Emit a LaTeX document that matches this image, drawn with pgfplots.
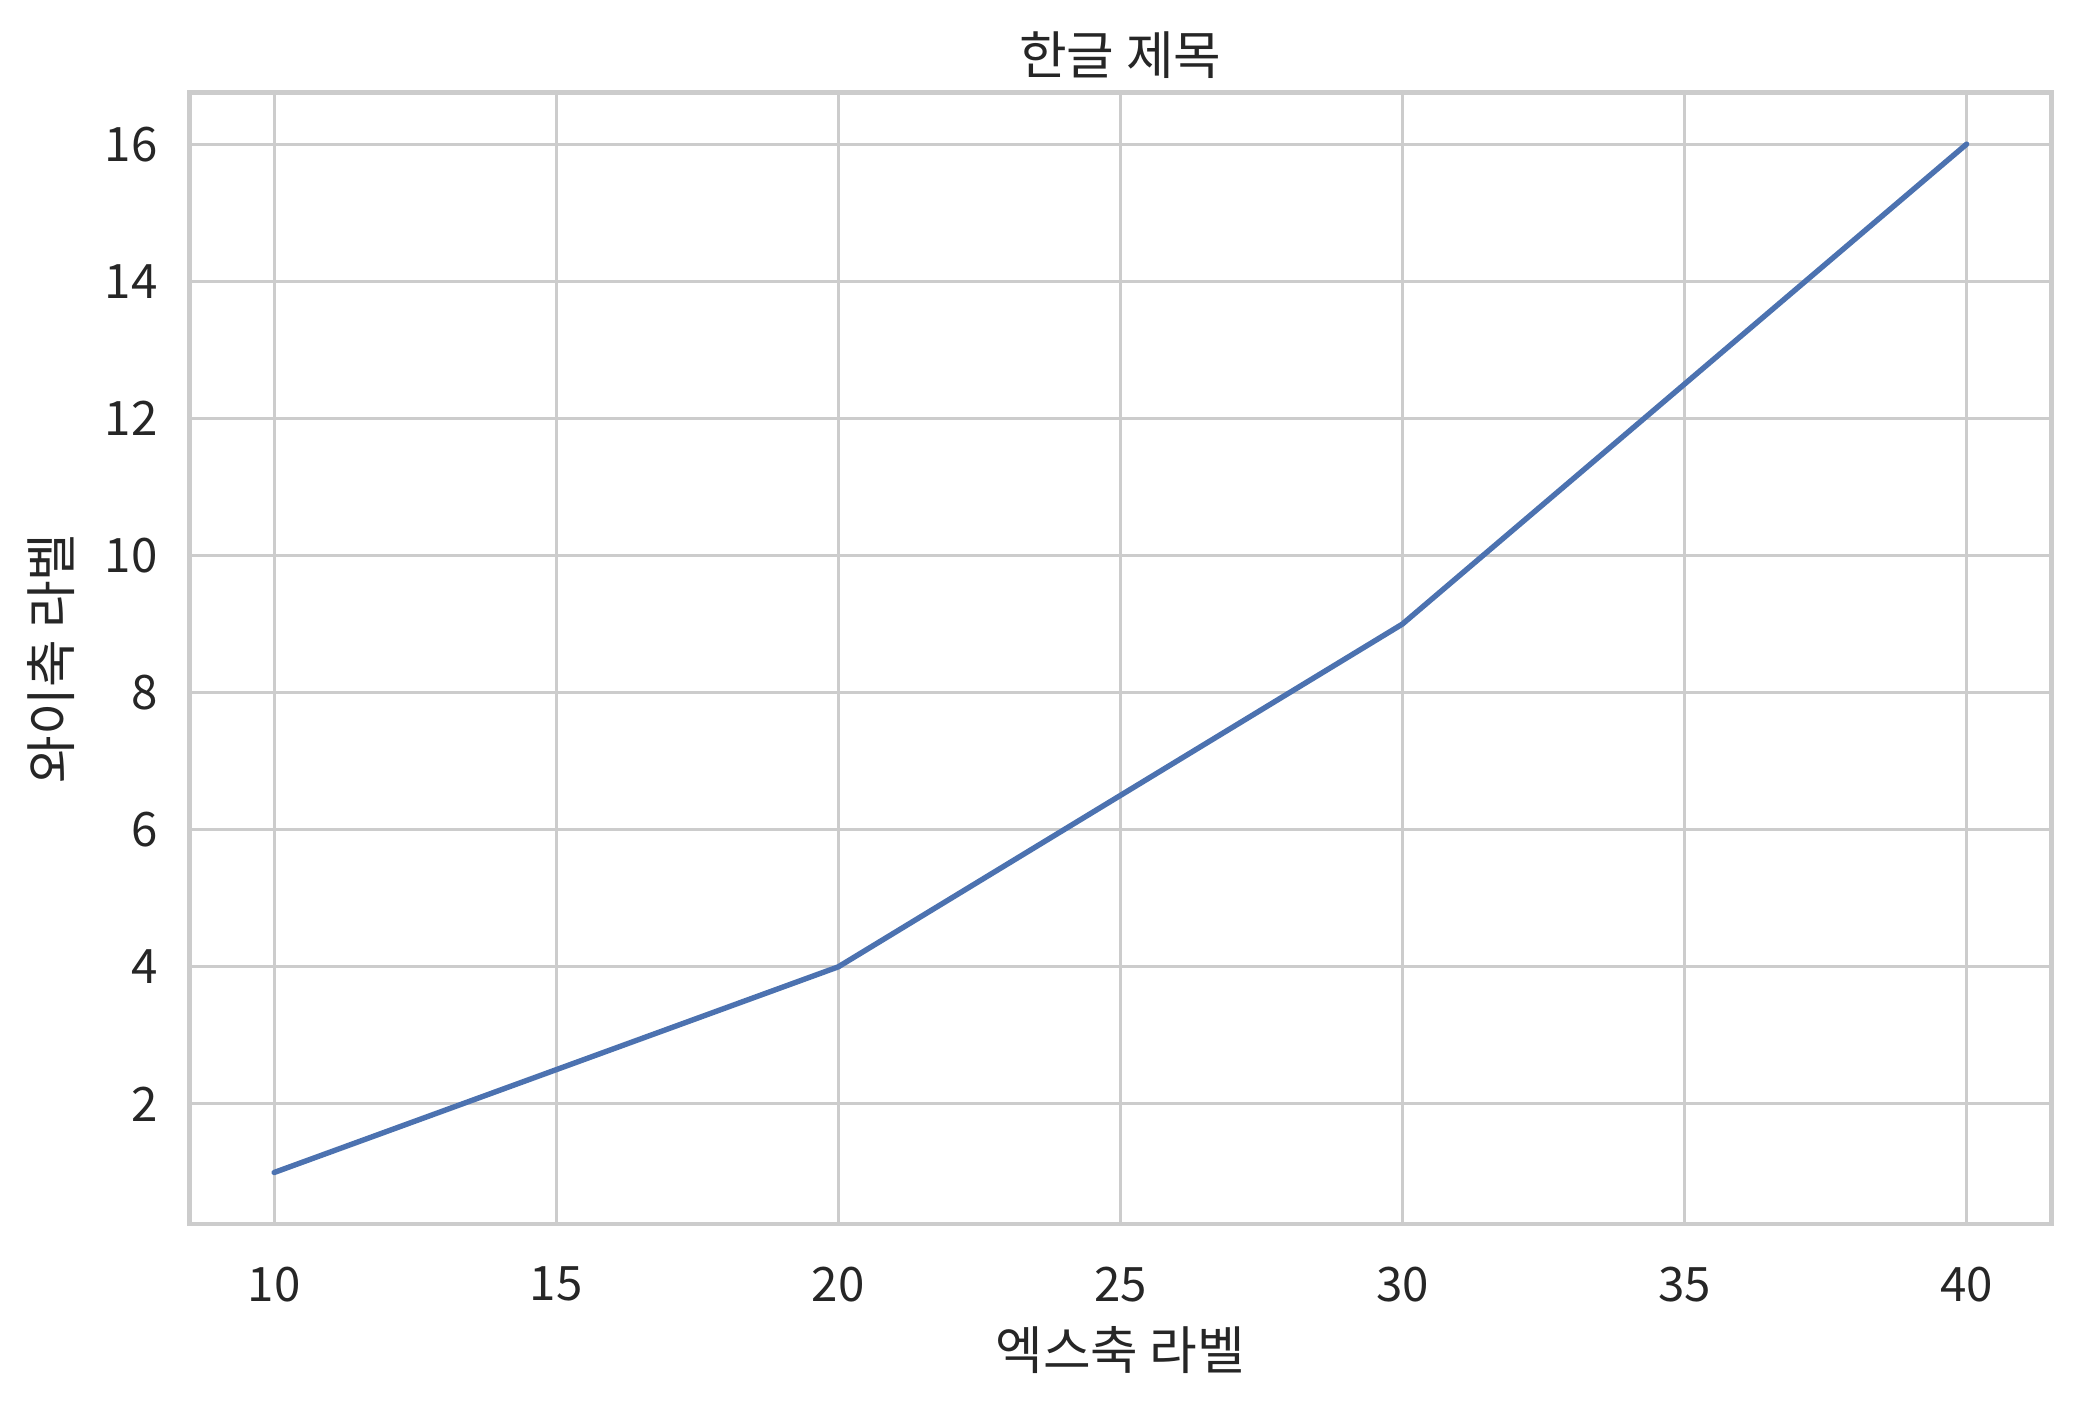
\documentclass[border=0pt]{standalone}
\usepackage{fontspec}
\setmainfont{Noto Sans CJK KR}
\usepackage{pgfplots}
\pgfplotsset{compat=1.18}
\definecolor{gridc}{HTML}{CCCCCC}
\definecolor{txt}{HTML}{262626}
\definecolor{deepblue}{HTML}{4C72B0}
\begin{document}
\begin{tikzpicture}
\path[use as bounding box] (-52.5bp,-49.6bp) rectangle (523.5bp,339.1bp);
\begin{axis}[
  scale only axis,
  width=515.8bp, height=313.4bp,
  xmin=8.5, xmax=41.5, ymin=0.25, ymax=16.75,
  xtick={10,15,20,25,30,35,40},
  ytick={2,4,6,8,10,12,14,16},
  grid=major,
  major grid style={draw=gridc, line width=0.85bp},
  axis line style={draw=gridc, line width=1.3bp},
  major tick length=0pt,
  /pgf/number format/assume math mode=true,
  tick label style={font=\fontsize{13.2}{15}\selectfont, text=txt},
  xticklabel style={anchor=north, inner sep=0pt, yshift=-11.7bp},
  yticklabel style={anchor=east, inner sep=0pt, xshift=-8.7bp},
  xlabel={엑스축 라벨},
  ylabel={와이축 라벨},
  title={한글 제목},
  label style={font=\fontsize{14.4}{17}\selectfont, text=txt},
  xlabel style={at={(axis description cs:0.5,-0.1117)}, anchor=center, inner sep=0pt},
  ylabel style={at={(axis description cs:-0.0746,0.5)}, anchor=center, inner sep=0pt},
  title style={at={(axis description cs:0.5,1.014)}, anchor=center, inner sep=0pt, font=\fontsize{14.4}{17}\selectfont, text=txt},
]
\addplot[deepblue, line width=1.5bp, line cap=round, line join=round] coordinates {
  (10,1) (20,4) (30,9) (40,16)
};
\end{axis}
\end{tikzpicture}
\end{document}
